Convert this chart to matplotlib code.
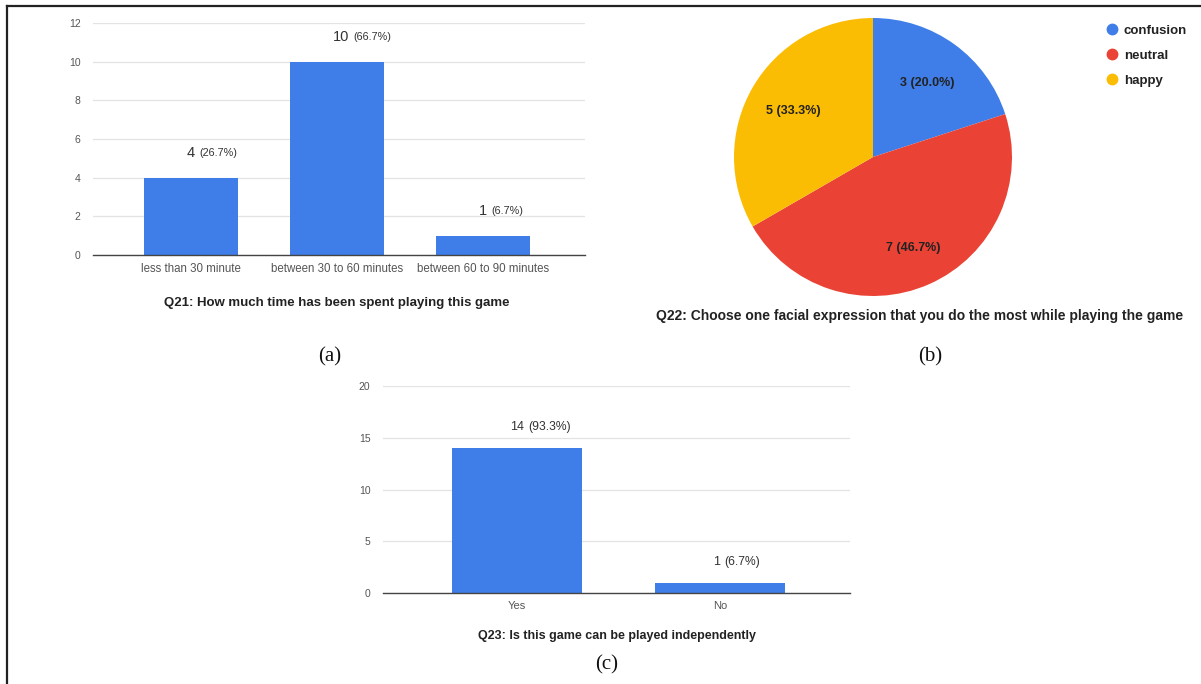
import matplotlib
matplotlib.use("Agg")
import matplotlib.pyplot as plt
from matplotlib.lines import Line2D

plt.rcParams['font.family'] = ['Liberation Sans', 'DejaVu Sans']

# Q21: time spent playing
q21_categories = ["less than 30 minute", "between 30 to 60 minutes", "between 60 to 90 minutes"]
q21_counts = [4, 10, 1]
q21_ticks = [0, 2, 4, 6, 8, 10, 12]

# Q22: facial expression while playing
q22_labels = ["confusion", "neutral", "happy"]
q22_counts = [3, 7, 5]

# Q23: can be played independently
q23_categories = ["Yes", "No"]
q23_counts = [14, 1]
q23_ticks = [0, 5, 10, 15, 20]

BLUE = "#3f7ee8"
RED = "#ea4335"
YELLOW = "#fbbc04"
GRID = "#e3e3e3"
TICK = "#555555"
LABEL = "#333333"

W, H = 1201, 684
fig = plt.figure(figsize=(W / 100, H / 100), dpi=100)
fig.patch.set_facecolor("white")


def px_axes(x0, y_top, x1, y_bot):
    return fig.add_axes([x0 / W, 1 - y_bot / H, (x1 - x0) / W, (y_bot - y_top) / H])


def bar_panel(ax, cats, counts, ticks, xlim, xsize, numsize, pctsize, num_dx, lbl_dy):
    total = sum(counts)
    xs = list(range(len(cats)))
    ax.bar(xs, counts, width=0.64, color=BLUE, zorder=3)
    ax.set_xlim(*xlim)
    ax.set_ylim(ticks[0], ticks[-1])
    ax.set_yticks(ticks)
    ax.set_xticks(xs)
    ax.set_xticklabels(cats, fontsize=xsize, color=TICK)
    ax.tick_params(axis="both", length=0, colors=TICK)
    ax.tick_params(axis="y", pad=9, labelsize=7.5)
    ax.tick_params(axis="x", pad=6)
    ax.grid(axis="y", color=GRID, linewidth=0.9, zorder=0)
    for s in ["top", "right", "left"]:
        ax.spines[s].set_visible(False)
    ax.spines["bottom"].set_color("#444444")
    ax.spines["bottom"].set_linewidth(1.0)
    ax.spines["bottom"].set_zorder(4)
    for x, v in zip(xs, counts):
        num = ax.annotate(str(v), xy=(x, v), xytext=(num_dx, lbl_dy), textcoords="offset points",
                          ha="left", va="center", fontsize=numsize, color=LABEL)
        ax.annotate(f"({v / total * 100:.1f}%)", xy=(1, 0.5), xycoords=num,
                    xytext=(3, 0), textcoords="offset points", ha="left", va="center",
                    fontsize=pctsize, color=LABEL)


# (a) time spent
ax_a = px_axes(93, 23, 585, 255)
bar_panel(ax_a, q21_categories, q21_counts, q21_ticks, (-0.67, 2.7), 8.3, 10.5, 7.8, -3, 18)
fig.text(337 / W, 1 - 303 / H, "Q21: How much time has been spent playing this game",
         ha="center", va="center", fontsize=9.5, fontweight="bold", color="#222222")
fig.text(330 / W, 1 - 357 / H, "(a)", ha="center", va="center", fontsize=15,
         family=["Liberation Serif", "DejaVu Serif"], color="#111111")

# (b) facial expression pie
cx, cy, r = 873, 157, 139
ax_b = px_axes(cx - r, cy - r, cx + r, cy + r)
total_b = sum(q22_counts)
wedges, _, autotexts = ax_b.pie(
    q22_counts, colors=[BLUE, RED, YELLOW], startangle=90, counterclock=False,
    autopct=lambda p: f"{round(p * total_b / 100)} ({p:.1f}%)", pctdistance=0.66,
    textprops=dict(fontsize=9, fontweight="bold", color="#222222"))
# push the large slice's label a little further out
lx, ly = autotexts[1].get_position()
autotexts[1].set_position((lx * 0.72 / 0.66, ly * 0.72 / 0.66))
ax_b.set_xlim(-1, 1)
ax_b.set_ylim(-1, 1)
ax_b.set_aspect("equal")
handles = [Line2D([0], [0], marker="o", linestyle="none", markersize=7.5, color=c)
           for c in [BLUE, RED, YELLOW]]
fig.legend(handles, q22_labels, loc="upper left", bbox_to_anchor=(1094 / W, 1 - 13 / H),
           frameon=False, handletextpad=0.35, labelspacing=0.95, handlelength=1.0,
           prop=dict(size=9.5, weight="bold"), labelcolor="#222222")
fig.text(920 / W, 1 - 316 / H, "Q22: Choose one facial expression that you do the most while playing the game",
         ha="center", va="center", fontsize=10, fontweight="bold", color="#222222")
fig.text(930 / W, 1 - 357 / H, "(b)", ha="center", va="center", fontsize=15,
         family=["Liberation Serif", "DejaVu Serif"], color="#111111")

# (c) independent play
ax_c = px_axes(383, 386, 850, 593)
bar_panel(ax_c, q23_categories, q23_counts, q23_ticks, (-0.66, 1.64), 8, 9, 8.7, -5, 15)
fig.text(617 / W, 1 - 636 / H, "Q23: Is this game can be played independently",
         ha="center", va="center", fontsize=9, fontweight="bold", color="#222222")
fig.text(607 / W, 1 - 665 / H, "(c)", ha="center", va="center", fontsize=15,
         family=["Liberation Serif", "DejaVu Serif"], color="#111111")

# outer frame
fig.add_artist(Line2D([7 / W, 7 / W], [0, 1 - 6 / H], transform=fig.transFigure,
                      color="#222222", linewidth=1.6))
fig.add_artist(Line2D([7 / W, 1], [1 - 6 / H, 1 - 6 / H], transform=fig.transFigure,
                      color="#222222", linewidth=1.6))

fig.savefig("out.png", dpi=100)
